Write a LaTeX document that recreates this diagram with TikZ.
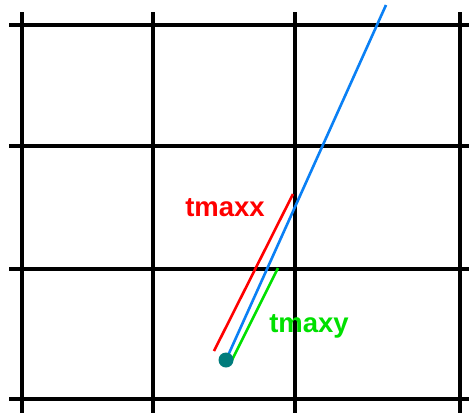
\documentclass[tikz,border=0pt]{standalone}
\usepackage{fontspec}
\setmainfont{Liberation Sans}
\usetikzlibrary{positioning}
\definecolor{raycol}{HTML}{0A80F5}
\definecolor{xcol}{HTML}{FF0000}
\definecolor{ycol}{HTML}{00E000}
\definecolor{origcol}{HTML}{007C7C}

\begin{document}
\begin{tikzpicture}[
  x=1pt, y=-1pt,
  gridline/.style={line width=3.2pt, color=black},
  ray/.style={line width=2.6pt, color=raycol},
  tseg/.style={line width=2.6pt},
  lbl/.style={font=\bfseries\fontsize{27.5}{27.5}\selectfont, inner sep=0pt}
]
  \useasboundingbox[fill=white] (0,0) rectangle (469,413);

  % Grid
  \foreach \gx in {22,153,295,460}
    \draw[gridline] (\gx,12) -- (\gx,413);
  \foreach \gy in {25,146,269,399}
    \draw[gridline] (9,\gy) -- (469,\gy);

  % Ray
  \coordinate (origin) at (226,360);
  \coordinate (rayend) at (386,5);
  \draw[ray] (origin) -- (rayend);

  % tMax segments
  \coordinate (xstart) at (214,351);
  \coordinate (xend) at (293,194);
  \coordinate (ystart) at (232,360);
  \coordinate (yend) at (278,268);
  \draw[tseg, color=xcol] (xstart) -- (xend);
  \draw[tseg, color=ycol] (ystart) -- (yend);

  % Origin
  \fill[origcol] (origin) circle (7.5);

  % Labels
  \node[lbl, text=xcol] (tmaxx) at (225,208) {tmaxx};
  \node[lbl, text=ycol] (tmaxy) at (309,326) {tmaxy};
\end{tikzpicture}
\end{document}
